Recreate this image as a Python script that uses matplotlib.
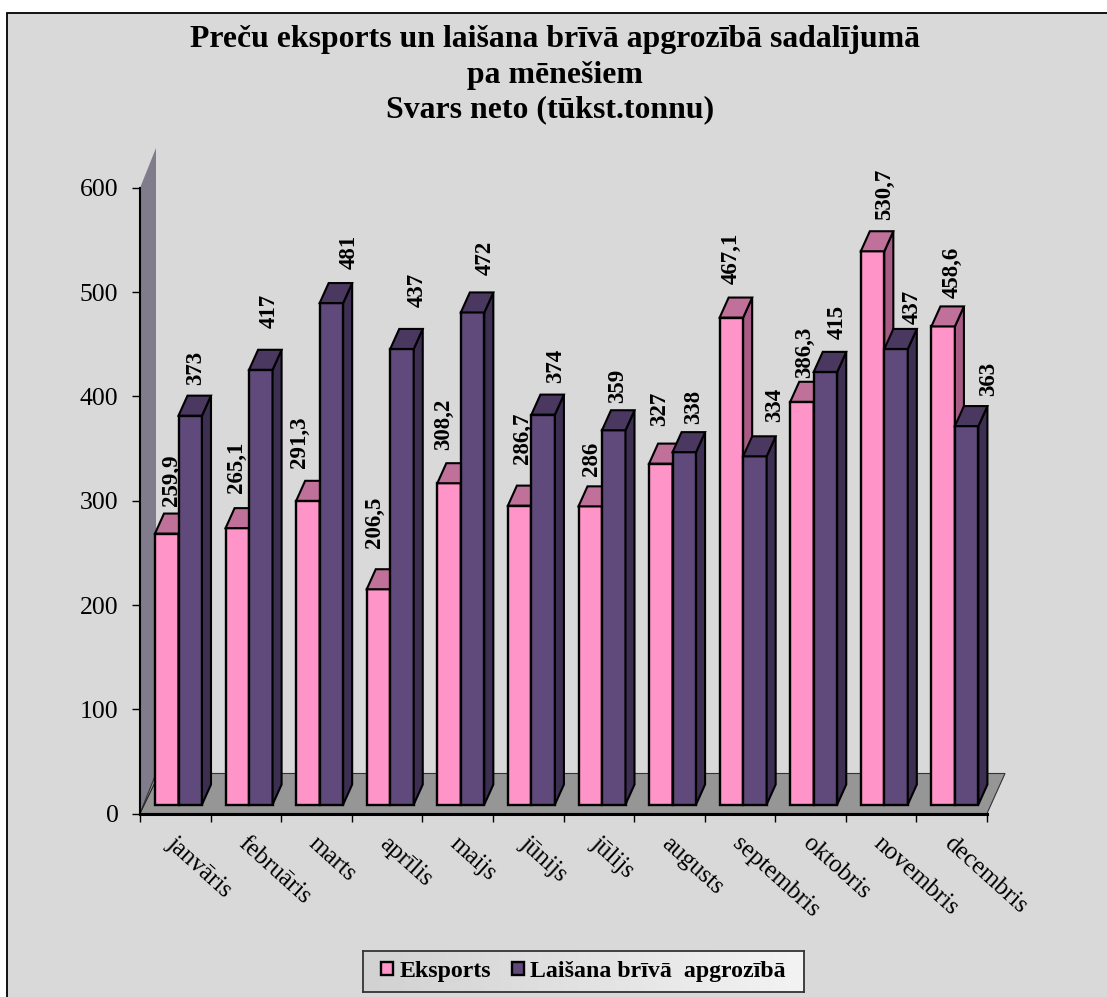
import matplotlib
matplotlib.use('Agg')
import matplotlib.pyplot as plt
import numpy as np
from matplotlib.patches import Polygon, Rectangle

plt.rcParams['font.family'] = ['Liberation Serif', 'DejaVu Serif']

months = ['janvāris', 'februāris', 'marts', 'aprīlis', 'maijs', 'jūnijs',
          'jūlijs', 'augusts', 'septembris', 'oktobris', 'novembris', 'decembris']
eksports = [259.9, 265.1, 291.3, 206.5, 308.2, 286.7, 286, 327, 467.1, 386.3, 530.7, 458.6]
eksports_labels = ['259,9', '265,1', '291,3', '206,5', '308,2', '286,7', '286', '327',
                   '467,1', '386,3', '530,7', '458,6']
laisana = [373, 417, 481, 437, 472, 374, 359, 338, 334, 415, 437, 363]
y_ticks = [0, 100, 200, 300, 400, 500, 600]

# hand placed data labels, offset in pixels from the top of the front face
eksports_label_dx = [5, -1, -8, -4, -5, 2.5, 1, -1, 0, 3, 12, 9]
eksports_label_dy = [53.5, 61, 59, 67, 59, 67, 47, 55, 59.5, 49, 57, 54]
laisana_label_dx = [5.5, 8, 18, 15, 13, 12, 4, 9, 20, 12, 16.5, 22]
laisana_label_dy = [47.6, 58.8, 51, 59, 54.4, 48.6, 44, 45, 51, 50, 42, 47]

W, H = 1107, 997
BG = '#d9d9d9'
PINK = ('#ff94c8', '#c0719a', '#a85c85')
PURPLE = ('#604a7b', '#4a3860', '#3d2f52')

fig = plt.figure(figsize=(W / 100, H / 100), dpi=100, facecolor='white')
fig.add_artist(Rectangle((7 / W, -0.01), (W + 20) / W, (H - 13) / H + 0.01,
                         transform=fig.transFigure, facecolor=BG,
                         edgecolor='black', linewidth=1.3, zorder=-1))

ax = fig.add_axes([140 / W, (H - 813.5) / H, 847 / W, 625.5 / H])
ax.set_xlim(0, 12)
ax.set_ylim(0, 600)
ax.patch.set_alpha(0)

# one pixel in data units
px_x = 12 / 847
px_y = 600 / 625.5
depth_x = 9 * px_x
depth_y = 20 * px_y
base = 9 * px_y
bar_w = 23.5 * px_x
bar_x0 = 15 * px_x

wall = Polygon([(0, 0), (0, 600), (16 * px_x, 600 + 40 * px_y), (16 * px_x, 40 * px_y)],
               facecolor='#807c8c', edgecolor='none', zorder=1, clip_on=False)
floor = Polygon([(0, 0), (16 * px_x, 40 * px_y), (12 + 18 * px_x, 40 * px_y), (12, 0)],
                facecolor='#969696', edgecolor='#333333', linewidth=0.8, zorder=1, clip_on=False)
ax.add_patch(wall)
ax.add_patch(floor)
ax.plot([0, 16 * px_x], [0, 33 * px_y], color='#222222', lw=0.8, zorder=1.5, clip_on=False)


def draw_box(x, value, colors, z):
    front, top, side = colors
    top_y = value + base
    bars = ax.bar(x, value, bar_w, bottom=base, align='edge', color=front,
                  edgecolor='black', linewidth=1.7, zorder=z)
    ax.add_patch(Polygon([(x + bar_w, base), (x + bar_w + depth_x, base + depth_y),
                          (x + bar_w + depth_x, top_y + depth_y), (x + bar_w, top_y)],
                         facecolor=side, edgecolor='black', linewidth=1.5, zorder=z,
                         clip_on=False))
    ax.add_patch(Polygon([(x, top_y), (x + depth_x, top_y + depth_y),
                          (x + bar_w + depth_x, top_y + depth_y), (x + bar_w, top_y)],
                         facecolor=top, edgecolor='black', linewidth=1.5, zorder=z,
                         clip_on=False))
    return bars


for i in range(len(months)):
    x = i + bar_x0
    pink_bar = draw_box(x, eksports[i], PINK, 3 + i * 0.1)
    purple_bar = draw_box(x + bar_w, laisana[i], PURPLE, 3.05 + i * 0.1)

    ax.annotate(eksports_labels[i], (x + bar_w / 2, eksports[i] + base),
                xytext=(eksports_label_dx[i], eksports_label_dy[i]),
                textcoords='offset pixels', rotation=90, ha='center', va='center',
                fontsize=16.5, fontweight='bold', zorder=2, annotation_clip=False)
    ax.annotate(str(laisana[i]), (x + bar_w * 1.5, laisana[i] + base),
                xytext=(laisana_label_dx[i], laisana_label_dy[i]),
                textcoords='offset pixels', rotation=90, ha='center', va='center',
                fontsize=16.5, fontweight='bold', zorder=2, annotation_clip=False)
    ax.annotate(months[i], (i + 0.5, 0), xytext=(-5, -27), textcoords='offset pixels',
                rotation=-42, rotation_mode='anchor', ha='left', va='center',
                fontsize=18, annotation_clip=False)

ax.set_yticks(y_ticks)
ax.set_xticks(np.arange(13))
ax.set_xticklabels([])
ax.tick_params(axis='y', labelsize=18.5, length=5.5, width=1, pad=10)
ax.tick_params(axis='x', length=5.5, width=1)
ax.spines['top'].set_visible(False)
ax.spines['right'].set_visible(False)
ax.spines['left'].set_linewidth(1.5)
ax.spines['bottom'].set_linewidth(2.2)
ax.spines['bottom'].set_zorder(2.5)

fig.text(555 / W, 1 - 39 / H, 'Preču eksports un laišana brīvā apgrozībā sadalījumā',
         ha='center', va='center', fontsize=22.9, fontweight='bold')
fig.text(555 / W, 1 - 75 / H, 'pa mēnešiem',
         ha='center', va='center', fontsize=22.9, fontweight='bold')
fig.text(550 / W, 1 - 110 / H, 'Svars neto (tūkst.tonnu)',
         ha='center', va='center', fontsize=22.9, fontweight='bold')

# legend sits on a small axes so the box can carry the grey gradient
lax = fig.add_axes([363 / W, (H - 992) / H, 441 / W, 41 / H])
lax.imshow(np.linspace(0.82, 0.95, 200).reshape(1, -1), cmap='gray', vmin=0, vmax=1,
           aspect='auto')
lax.set_xticks([])
lax.set_yticks([])
for spine in lax.spines.values():
    spine.set_linewidth(1.3)
    spine.set_color('#333333')
lax.legend([pink_bar, purple_bar], ['Eksports', 'Laišana brīvā  apgrozībā'],
           loc='center', ncol=2, frameon=False, handlelength=0.5, handleheight=0.5,
           handletextpad=0.25, columnspacing=0.9, prop={'size': 17.2, 'weight': 'bold'})

fig.savefig('out.png', dpi=100)
